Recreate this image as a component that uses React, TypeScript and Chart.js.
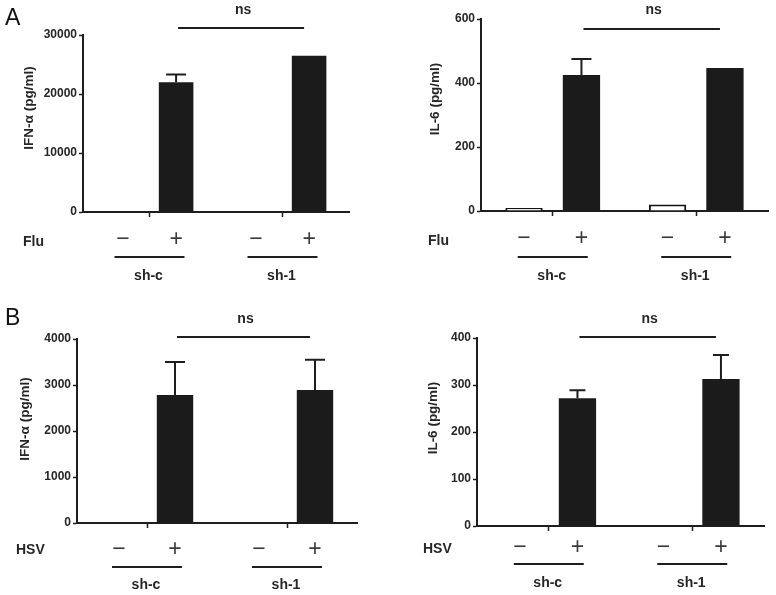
import React, { useEffect, useRef } from "react";
import { Chart, registerables } from "chart.js";

Chart.register(...registerables);

// ---- data ----
const groups = ["sh-c", "sh-1"];
const signs = ["−", "+"];

const ifnFluMinus = [0, 0];
const ifnFluPlus = [22000, 26500];
const ifnFluErr = [1300, 0];

const il6FluMinus = [9, 20];
const il6FluPlus = [425, 447];
const il6FluErr = [50, 0];

const ifnHsvMinus = [0, 0];
const ifnHsvPlus = [2780, 2890];
const ifnHsvErr = [720, 660];

const il6HsvMinus = [0, 0];
const il6HsvPlus = [272, 313];
const il6HsvErr = [17, 51];

const yMaxes = [30000, 600, 4000, 400];
const ySteps = [10000, 200, 1000, 100];
const yTitles = ["IFN-α (pg/ml)", "IL-6 (pg/ml)", "IFN-α (pg/ml)", "IL-6 (pg/ml)"];
const stimuli = ["Flu", "Flu", "HSV", "HSV"];
const panelLetters = ["A", "", "B", ""];
const sigLabel = "ns";

const minusSeries = [ifnFluMinus, il6FluMinus, ifnHsvMinus, il6HsvMinus];
const plusSeries = [ifnFluPlus, il6FluPlus, ifnHsvPlus, il6HsvPlus];
const errSeries = [ifnFluErr, il6FluErr, ifnHsvErr, il6HsvErr];

// ---- layout (page pixels) ----
const W = 776;
const H = 595;
const YW = 60;
const XH = 10;
const layouts = [
  { area: [83, 35, 349, 212], yTitle: [29, 108], letter: [5, 25], nsY: 14, nsLineY: 28, condX: 23, condY: 246, signY: 240, lineY: 257, groupY: 280, cap: 10 },
  { area: [481, 19, 768, 211], yTitle: [435, 99], letter: [0, 0], nsY: 14, nsLineY: 29, condX: 428, condY: 245, signY: 239, lineY: 257, groupY: 280, cap: 10 },
  { area: [77, 339, 357, 523], yTitle: [25, 419], letter: [5, 325], nsY: 323, nsLineY: 337, condX: 16, condY: 554, signY: 550, lineY: 567, groupY: 589, cap: 10 },
  { area: [477, 338, 764, 526], yTitle: [433, 418], letter: [0, 0], nsY: 323, nsLineY: 337, condX: 423, condY: 553, signY: 548, lineY: 564, groupY: 587, cap: 8 },
];

const FONT = "'Liberation Sans', Arial, Helvetica, sans-serif";
const INK = "#1e1e1e";
const TEXT = "#262626";
const BAR = "#1b1b1b";

function Panel({ idx }: { idx: number }) {
  const ref = useRef<HTMLCanvasElement>(null);
  useEffect(() => {
    const L = layouts[idx];
    const [left, top, right, bottom] = L.area;
    const plus = plusSeries[idx];
    const err = errSeries[idx];

    const annot = {
      id: "annot" + idx,
      afterDraw(chart: any) {
        const ctx = chart.ctx as CanvasRenderingContext2D;
        const ys = chart.scales.y;
        const xs = chart.scales.x;
        const minusMeta = chart.getDatasetMeta(0);
        const plusMeta = chart.getDatasetMeta(1);
        ctx.save();
        // error bars (upper only)
        ctx.strokeStyle = INK;
        ctx.lineWidth = 2;
        err.forEach((e, i) => {
          if (!e) return;
          const bar = plusMeta.data[i];
          const yTop = ys.getPixelForValue(plus[i] + e);
          ctx.beginPath();
          ctx.moveTo(bar.x, bar.y);
          ctx.lineTo(bar.x, yTop);
          ctx.moveTo(bar.x - L.cap, yTop);
          ctx.lineTo(bar.x + L.cap, yTop);
          ctx.stroke();
        });
        // significance bracket
        const x1 = plusMeta.data[0].x + 2;
        const x2 = plusMeta.data[1].x - 5;
        ctx.beginPath();
        ctx.moveTo(x1, L.nsLineY);
        ctx.lineTo(x2, L.nsLineY);
        ctx.stroke();
        ctx.fillStyle = TEXT;
        ctx.font = `bold 14px ${FONT}`;
        ctx.textAlign = "center";
        ctx.textBaseline = "alphabetic";
        ctx.fillText(sigLabel, (x1 + x2) / 2 + 2, L.nsY);
        // stimulus label
        ctx.textAlign = "left";
        ctx.fillText(stimuli[idx], L.condX, L.condY);
        // signs
        ctx.font = `23px ${FONT}`;
        ctx.fillStyle = "#3a3a3a";
        ctx.textAlign = "center";
        ctx.textBaseline = "middle";
        groups.forEach((_, i) => {
          ctx.fillText(signs[0], minusMeta.data[i].x, L.signY);
          ctx.fillText(signs[1], plusMeta.data[i].x, L.signY);
        });
        // group lines and names
        ctx.fillStyle = TEXT;
        ctx.font = `bold 14px ${FONT}`;
        ctx.textBaseline = "alphabetic";
        groups.forEach((g, i) => {
          const xc = xs.getPixelForValue(i);
          ctx.beginPath();
          ctx.moveTo(xc - 35, L.lineY);
          ctx.lineTo(xc + 35, L.lineY);
          ctx.stroke();
          ctx.fillText(g, xc - 1, L.groupY);
        });
        // y title
        ctx.save();
        ctx.translate(L.yTitle[0], L.yTitle[1]);
        ctx.rotate(-Math.PI / 2);
        ctx.font = `bold 13.5px ${FONT}`;
        ctx.textAlign = "center";
        ctx.textBaseline = "middle";
        ctx.fillText(yTitles[idx], 0, 0);
        ctx.restore();
        // panel letter
        if (panelLetters[idx]) {
          ctx.font = `23px ${FONT}`;
          ctx.textAlign = "left";
          ctx.textBaseline = "alphabetic";
          ctx.fillStyle = "#111";
          ctx.fillText(panelLetters[idx], L.letter[0], L.letter[1]);
        }
        ctx.restore();
      },
    };

    const chart = new Chart(ref.current as HTMLCanvasElement, {
      type: "bar",
      data: {
        labels: groups,
        datasets: [
          {
            label: signs[0],
            data: minusSeries[idx],
            backgroundColor: "#ffffff",
            borderColor: "#111111",
            borderWidth: 2,
            inflateAmount: 0,
            categoryPercentage: 0.8,
            barPercentage: 0.65,
          },
          {
            label: signs[1],
            data: plusSeries[idx],
            backgroundColor: BAR,
            borderWidth: 0,
            inflateAmount: 0,
            categoryPercentage: 0.8,
            barPercentage: 0.65,
          },
        ],
      },
      options: {
        responsive: false,
        animation: false,
        devicePixelRatio: 1,
        events: [],
        layout: {
          padding: { left: left - YW, top: top, right: W - right, bottom: H - bottom - XH },
        },
        plugins: { legend: { display: false }, tooltip: { enabled: false } },
        scales: {
          x: {
            type: "category",
            offset: true,
            grid: { display: true, offset: false, drawOnChartArea: false, drawTicks: true, tickLength: 5, tickWidth: 1.5, tickColor: INK },
            border: { display: true, color: INK, width: 2 },
            ticks: { display: false },
            afterFit: (s: any) => { s.height = XH; },
          },
          y: {
            min: 0,
            max: yMaxes[idx],
            ticks: {
              stepSize: ySteps[idx],
              color: TEXT,
              padding: 2,
              font: { family: FONT, size: 12, weight: "bold" },
              callback: (v: any) => String(v),
            },
            grid: { display: true, drawOnChartArea: false, drawTicks: true, tickLength: 4, tickWidth: 1.5, tickColor: INK },
            border: { display: true, color: INK, width: 2 },
            afterFit: (s: any) => { s.width = YW; },
          },
        },
      } as any,
      plugins: [annot],
    });
    return () => chart.destroy();
  }, [idx]);
  return (
    <canvas
      ref={ref}
      width={W}
      height={H}
      style={{ position: "absolute", left: 0, top: 0, width: W, height: H }}
    />
  );
}

export default function App() {
  return (
    <div style={{ position: "fixed", left: 0, top: 0, width: W, height: H, background: "#ffffff", overflow: "hidden" }}>
      {[0, 1, 2, 3].map((i) => (
        <Panel key={i} idx={i} />
      ))}
    </div>
  );
}
